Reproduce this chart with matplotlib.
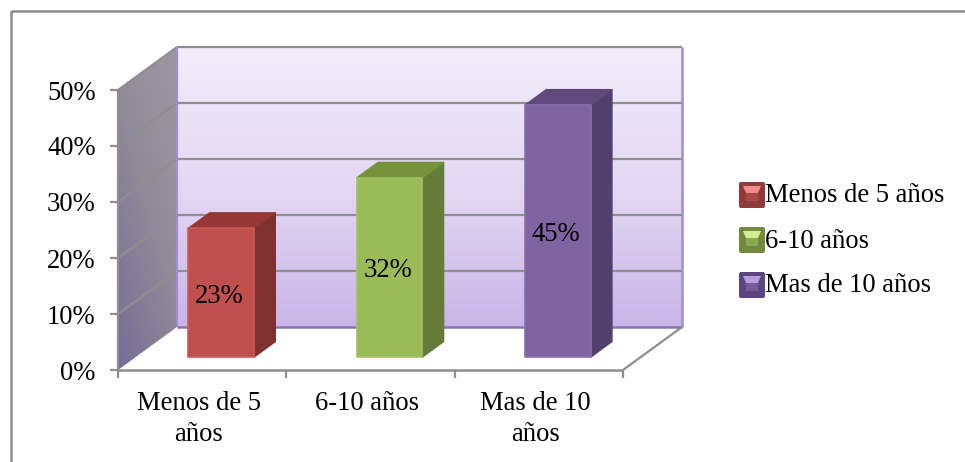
import numpy as np
import matplotlib
matplotlib.use('Agg')
import matplotlib.pyplot as plt
from matplotlib.colors import LinearSegmentedColormap
from matplotlib.patches import Polygon, Rectangle, FancyBboxPatch

plt.rcParams['font.family'] = ['Liberation Serif', 'DejaVu Serif']

#data
categories = ['Menos de 5\naños', '6-10 años', 'Mas de 10\naños']
legend_labels = ['Menos de 5 años', '6-10 años', 'Mas de 10 años']
values = [23, 32, 45]
y_ticks = [0, 10, 20, 30, 40, 50]

#colours of each bar: front, side, top, edge highlight
face_colors = ['#c0504d', '#9bbb59', '#8064a2']
side_colors = ['#7d3230', '#667c3a', '#523f6d']
top_colors = ['#953735', '#76923c', '#5f497a']
edge_colors = ['#cc5c59', '#a3c262', '#8a6eac']
light_colors = ['#f28a88', '#d4ee90', '#b79ade']
mid_colors = ['#c65a58', '#a8c664', '#8d72b0']
dark_colors = ['#8f3b39', '#728a40', '#5c4680']

#how far the back wall is shifted from the front plane, in data units
DX = 0.3505
DY = 7.68
BAR_D0 = 0.30
BAR_D1 = 0.66
BAR_W = 0.39
BAR_SHIFT = 0.008
FONT = 19.2
GRID = '#8e8e8e'


def proj(x, y, d=0.0):
    return (x + d * DX, y + d * DY)


def line(a, b, color=GRID, lw=1.6, zorder=3):
    xs, ys = zip(a, b)
    ax.plot(xs, ys, color=color, lw=lw, clip_on=False, zorder=zorder, solid_capstyle='butt')


fig = plt.figure(figsize=(9.65, 4.62), dpi=100)

#outer frame of the chart, only the top and left sides fall inside the figure
frame = fig.add_axes([0, 0, 1, 1])
frame.set_xlim(0, 965)
frame.set_ylim(462, 0)
frame.axis('off')
frame.add_patch(Rectangle((10.5, 10.5), 1000, 500, fill=False, edgecolor='#8c8c8c', linewidth=1.8))

ax = fig.add_axes([118 / 965, 1 - 370 / 462, 505 / 965, 280 / 462])
ax.patch.set_alpha(0)
ax.set_xlim(-0.5, 2.5)
ax.set_ylim(0, 50)
ax.set_autoscale_on(False)
for s in ax.spines.values():
    s.set_visible(False)

#back wall
wall_cmap = LinearSegmentedColormap.from_list('wall', ['#f2edfb', '#e3d8f3', '#c9b5e8'])
bx0, by0 = proj(-0.5, 0, 1)
bx1, by1 = proj(2.5, 50, 1)
ax.imshow(np.linspace(0, 1, 200).reshape(-1, 1), cmap=wall_cmap, aspect='auto',
          extent=[bx0, bx1, by0, by1], origin='upper', clip_on=False, zorder=1)

#left wall, clipped to its parallelogram
side_cmap = LinearSegmentedColormap.from_list('side', ['#9d98a2', '#8f8a98', '#786c96'])
ramp = np.add.outer(np.linspace(0, 0.6, 100), np.linspace(0.4, 0, 100))
left_corners = [proj(-0.5, 0), proj(-0.5, 0, 1), proj(-0.5, 50, 1), proj(-0.5, 50)]
left_wall = Polygon(left_corners, closed=True, facecolor='none', edgecolor='none',
                    transform=ax.transData, clip_on=False)
ax.add_patch(left_wall)
im = ax.imshow(ramp, cmap=side_cmap, aspect='auto', vmin=0, vmax=1,
               extent=[-0.5, bx0, 0, by1], origin='upper', zorder=1)
im.set_clip_path(left_wall)
im.set_clip_box(fig.bbox)
ax.set_xlim(-0.5, 2.5)
ax.set_ylim(0, 50)

#grid lines across both walls
for t in y_ticks[1:]:
    line(proj(-0.5, t), proj(-0.5, t, 1), zorder=2)
    line(proj(-0.5, t, 1), proj(2.5, t, 1), zorder=2)

#wall borders
line(proj(-0.5, 0), proj(-0.5, 50))
line(proj(-0.5, 0, 1), proj(-0.5, 50, 1), color='#a48cd0')
line(proj(2.5, 0, 1), proj(2.5, 50, 1), color='#a48cd0', lw=1.8)
line(proj(-0.5, 0, 1), proj(2.5, 0, 1), color='#8a72ae', lw=1.8)
line(proj(2.5, 0), proj(2.5, 0, 1))
line(proj(-0.5, 0), proj(2.5, 0), lw=1.8)

#bars
for i, v in enumerate(values):
    l, r = i + BAR_SHIFT - BAR_W / 2, i + BAR_SHIFT + BAR_W / 2
    side = [proj(r, 0, BAR_D0), proj(r, 0, BAR_D1), proj(r, v, BAR_D1), proj(r, v, BAR_D0)]
    top = [proj(l, v, BAR_D0), proj(r, v, BAR_D0), proj(r, v, BAR_D1), proj(l, v, BAR_D1)]
    front = [proj(l, 0, BAR_D0), proj(r, 0, BAR_D0), proj(r, v, BAR_D0), proj(l, v, BAR_D0)]
    ax.add_patch(Polygon(side, closed=True, facecolor=side_colors[i], edgecolor=side_colors[i],
                         lw=1, joinstyle='round', clip_on=False, zorder=4))
    ax.add_patch(Polygon(top, closed=True, facecolor=top_colors[i], edgecolor=top_colors[i],
                         lw=1, joinstyle='round', clip_on=False, zorder=4))
    ax.add_patch(Polygon(front, closed=True, facecolor=face_colors[i], edgecolor=edge_colors[i],
                         lw=1.2, joinstyle='round', clip_on=False, zorder=5))
    tx, ty = proj(i, v / 2, BAR_D0)
    ax.text(tx - 0.003, ty - 0.6, f'{v}%', ha='center', va='center', fontsize=FONT,
            color='black', zorder=6)

#axis ticks and tick labels
ax.set_yticks(y_ticks)
ax.set_yticklabels([f'{t}%' for t in y_ticks], fontsize=FONT)
ax.set_xticks([-0.5, 0.5, 1.5, 2.5])
ax.set_xticklabels([])
ax.tick_params(axis='y', length=6, width=1.6, color=GRID, pad=10)
ax.tick_params(axis='x', length=6, width=1.6, color=GRID)
for i, c in enumerate(categories):
    ax.annotate(c, xy=(i - 0.02, 0), xytext=(0, -15), xycoords='data', textcoords='offset points',
                ha='center', va='top', fontsize=FONT, linespacing=1.35, annotation_clip=False)

#legend with bevelled swatches, laid out in pixels on the frame axes
for i, label in enumerate(legend_labels):
    y0 = 182 + i * 45
    x0 = 739
    s = 26
    frame.add_patch(FancyBboxPatch((x0 + 2, y0 + 2), s - 4, s - 4, boxstyle='round,pad=2',
                                   facecolor=dark_colors[i], edgecolor='none', zorder=5))
    frame.add_patch(Polygon([(x0 + 4, y0 + 4), (x0 + s - 4, y0 + 4), (x0 + s - 7, y0 + 11), (x0 + 7, y0 + 11)],
                            closed=True, facecolor=light_colors[i], edgecolor='none', zorder=6))
    frame.add_patch(Rectangle((x0 + 7, y0 + 11), s - 14, 8, facecolor=mid_colors[i],
                              alpha=0.5, edgecolor='none', zorder=6))
    frame.text(765, y0 + 14, label, ha='left', va='center', fontsize=FONT, zorder=7)

fig.savefig('out.png', dpi=100)
